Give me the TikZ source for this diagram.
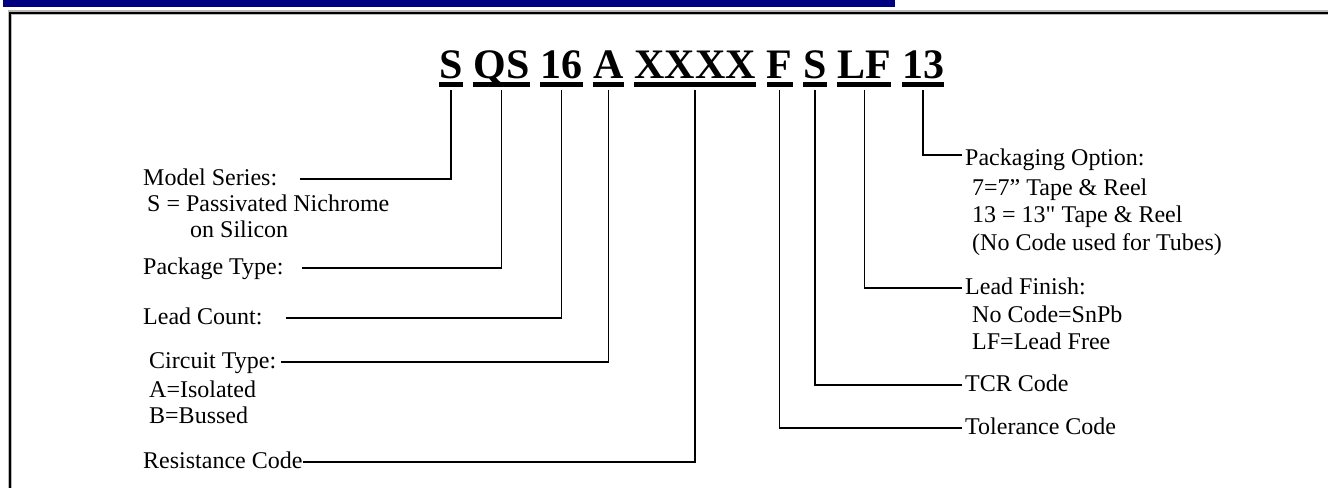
\documentclass[tikz,border=0pt]{standalone}
\usepackage{fontspec}
\setmainfont{Liberation Serif}
\newfontfamily\rawserif{Liberation Serif}
\usetikzlibrary{positioning}
\definecolor{barblue}{HTML}{000080}

\begin{document}
\begin{tikzpicture}[x=1pt,y=-1pt,
  code/.style={font=\fontsize{42}{42}\selectfont\bfseries,inner xsep=0pt,inner ysep=0pt,
    text height=30pt,text depth=12pt},
  lbl/.style={font=\fontsize{24}{27}\selectfont,inner sep=0pt,anchor=west,
    text height=17pt,text depth=5pt},
  lead/.style={line width=1.6pt},
  node distance=10.5pt]
\useasboundingbox (0,0) rectangle (1328,488);
\fill[barblue] (3,0) rectangle (895,7);
\draw[gray!55,line width=4.5pt] (10,488) -- (10,12.5) -- (1328,12.5);
\draw[line width=2pt] (10,488) -- (10,12.5) -- (1328,12.5);

% part number
\node[code,anchor=base west] (cS) at (439,78) {S};
\node[code,right=of cS] (cQS) {QS};
\node[code,right=of cQS] (c16) {16};
\node[code,right=of c16] (cA) {A};
\node[code,right=of cA] (cX) {XXXX};
\node[code,right=of cX] (cF) {F};
\node[code,right=of cF] (cT) {S};
\node[code,right=of cT] (cLF) {LF};
\node[code,right=of cLF] (c13) {13};
\foreach \n in {cS,cQS,c16,cA,cX,cF,cT,cLF,c13}
  \fill ([yshift=-4pt]\n.base west) rectangle ([yshift=-9pt]\n.base east);

% left side
\node[lbl] (model) at (143,179) {Model Series:};
\node[lbl] (modelA) at (147,205) {S = Passivated Nichrome};
\node[lbl] (modelB) at (190,231) {on Silicon};
\node[lbl] (pack) at (143,268) {Package Type:};
\node[lbl] (count) at (143,318) {Lead Count:};
\node[lbl] (circ) at (149,362) {Circuit Type:};
\node[lbl] (circA) at (149,391) {A=Isolated};
\node[lbl] (circB) at (149,417) {B=Bussed};
\node[lbl] (res) at (143,462) {Resistance Code};

% right side
\node[lbl] (opt) at (965,159) {Packaging Option:};
\node[lbl] (opt7) at (972,189) {7=7” Tape \& Reel};
\node[lbl] (opt13) at (972,216) {13 = 13{\rawserif"} Tape \& Reel};
\node[lbl] (optNo) at (972,244) {(No Code used for Tubes)};
\node[lbl] (fin) at (965,288) {Lead Finish:};
\node[lbl] (finA) at (972,316) {No Code=SnPb};
\node[lbl] (finB) at (972,343) {LF=Lead Free};
\node[lbl] (tcr) at (965,385) {TCR Code};
\node[lbl] (tol) at (965,428) {Tolerance Code};

\draw[lead] (cS.south) |- ([xshift=23pt]model.east);
\draw[lead] (cQS.south) |- ([xshift=18pt]pack.east);
\draw[lead] (c16.south) |- ([xshift=23pt]count.east);
\draw[lead] (cA.south) |- ([xshift=5pt]circ.east);
\draw[lead] (cX.south) |- (res.east);
\draw[lead] (cF.south) |- ([xshift=-3pt]tol.west);
\draw[lead] (cT.south) |- ([xshift=-3pt]tcr.west);
\draw[lead] (cLF.south) |- ([xshift=-3pt]fin.west);
\draw[lead] (c13.south) |- ([xshift=-3pt,yshift=4pt]opt.west);
\end{tikzpicture}
\end{document}
